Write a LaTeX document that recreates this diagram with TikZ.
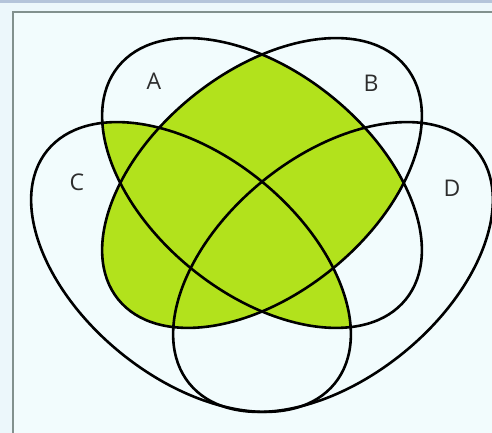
\documentclass[tikz,border=0pt]{standalone}
\usepackage{fontspec}
\setmainfont{Open Sans}
\definecolor{outerbg}{RGB}{236,247,251}
\definecolor{topband}{RGB}{180,196,218}
\definecolor{panelbg}{RGB}{242,252,253}
\definecolor{panelframe}{RGB}{130,145,142}
\definecolor{vgreen}{RGB}{178,226,28}
\definecolor{labelgray}{RGB}{45,45,45}
\tikzset{
  setline/.style={draw=black, line width=2.6pt},
  setlabel/.style={text=labelgray, font=\fontsize{23}{27}\selectfont, inner sep=0pt},
  shadeA/.style={rotate around={-39:(262,250)}},
  shadeB/.style={rotate around={39:(262,250)}},
  shadeC/.style={rotate around={-39:(191,166)}},
  shadeD/.style={rotate around={39:(333,166)}},
}
\newcommand{\ellA}{(262,250) ellipse [x radius=185, y radius=111]}
\newcommand{\ellB}{(262,250) ellipse [x radius=185, y radius=111]}
\newcommand{\ellC}{(191,166) ellipse [x radius=185, y radius=111]}
\newcommand{\ellD}{(333,166) ellipse [x radius=185, y radius=111]}
\begin{document}
\begin{tikzpicture}[x=1pt,y=1pt]
\useasboundingbox (0,0) rectangle (492,433);
\clip (0,0) rectangle (492,433);
% background
\fill[outerbg] (0,0) rectangle (492,433);
\fill[topband] (0,430) rectangle (492,433);
\filldraw[fill=panelbg, draw=panelframe, line width=2pt] (13,-10) rectangle (510,421);
% green region: majority of A, B, C
\begin{scope}
  \clip[shadeA] \ellA;
  \fill[vgreen, shadeB] \ellB;
\end{scope}
\begin{scope}
  \clip[shadeA] \ellA;
  \fill[vgreen, shadeC] \ellC;
\end{scope}
\begin{scope}
  \clip[shadeB] \ellB;
  \fill[vgreen, shadeC] \ellC;
\end{scope}
% outlines
\draw[setline, shadeA] \ellA;
\draw[setline, shadeB] \ellB;
\draw[setline, shadeC] \ellC;
\draw[setline, shadeD] \ellD;
% labels
\node[setlabel] (la) at (154,352) {A};
\node[setlabel] (lb) at (371,350) {B};
\node[setlabel] (lc) at (77,251) {C};
\node[setlabel] (ld) at (452,245) {D};
\end{tikzpicture}
\end{document}
